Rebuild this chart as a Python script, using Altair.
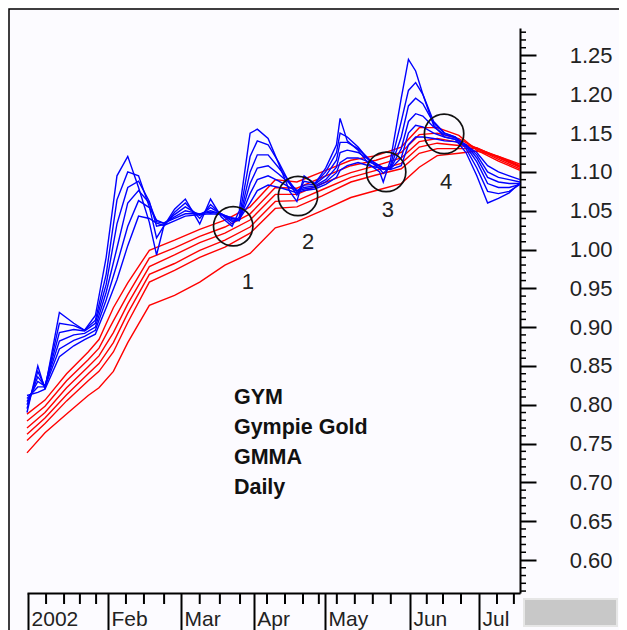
import altair as alt
import pandas as pd

# ---------------- data (trading-day index, price) ----------------
blue_days = [0, 3, 5, 9, 13, 16, 19, 22, 25, 28, 31, 34, 36, 38, 41, 44, 48, 51, 54, 57,
             59, 62, 64, 67, 70, 73, 75, 77, 80, 83, 86, 87, 89, 92, 95, 98, 99, 101, 104, 106,
             108, 110, 113, 116, 119, 122, 125, 128, 131, 134, 137]
ema3 = [0.790, 0.850, 0.820, 0.919, 0.905, 0.896, 0.915, 0.990, 1.095, 1.120, 1.080, 1.035, 0.993, 1.030, 1.052, 1.065, 1.033, 1.065, 1.042, 1.030,
        1.050, 1.150, 1.155, 1.143, 1.110, 1.075, 1.062, 1.095, 1.085, 1.105, 1.135, 1.169, 1.140, 1.128, 1.110, 1.100, 1.087, 1.115, 1.195, 1.245,
        1.230, 1.200, 1.160, 1.145, 1.142, 1.125, 1.095, 1.060, 1.066, 1.073, 1.086]
ema5 = [0.795, 0.843, 0.823, 0.905, 0.902, 0.896, 0.909, 0.968, 1.064, 1.100, 1.095, 1.055, 1.015, 1.030, 1.048, 1.060, 1.040, 1.058, 1.045, 1.033,
        1.042, 1.120, 1.140, 1.135, 1.112, 1.085, 1.070, 1.088, 1.085, 1.100, 1.125, 1.150, 1.145, 1.132, 1.115, 1.104, 1.098, 1.108, 1.165, 1.205,
        1.215, 1.200, 1.165, 1.150, 1.145, 1.130, 1.105, 1.075, 1.072, 1.075, 1.084]
ema8 = [0.800, 0.836, 0.824, 0.893, 0.897, 0.895, 0.905, 0.955, 1.033, 1.080, 1.088, 1.062, 1.030, 1.032, 1.045, 1.055, 1.044, 1.054, 1.046, 1.036,
        1.038, 1.100, 1.122, 1.122, 1.105, 1.087, 1.075, 1.083, 1.084, 1.095, 1.115, 1.138, 1.138, 1.130, 1.117, 1.107, 1.103, 1.105, 1.145, 1.185,
        1.195, 1.188, 1.163, 1.150, 1.145, 1.133, 1.113, 1.085, 1.080, 1.080, 1.084]
ema10 = [0.804, 0.830, 0.824, 0.882, 0.890, 0.892, 0.900, 0.945, 1.002, 1.060, 1.076, 1.060, 1.036, 1.034, 1.042, 1.050, 1.046, 1.050, 1.046, 1.038,
         1.037, 1.085, 1.105, 1.108, 1.097, 1.085, 1.076, 1.080, 1.082, 1.090, 1.106, 1.125, 1.128, 1.125, 1.116, 1.108, 1.105, 1.104, 1.130, 1.165,
         1.175, 1.172, 1.158, 1.148, 1.144, 1.135, 1.118, 1.093, 1.087, 1.085, 1.085]
ema12 = [0.808, 0.823, 0.823, 0.872, 0.883, 0.888, 0.896, 0.935, 0.981, 1.030, 1.063, 1.054, 1.038, 1.034, 1.040, 1.046, 1.046, 1.048, 1.046, 1.040,
         1.038, 1.072, 1.090, 1.095, 1.088, 1.080, 1.075, 1.078, 1.080, 1.087, 1.099, 1.112, 1.118, 1.118, 1.113, 1.107, 1.105, 1.104, 1.118, 1.150,
         1.160, 1.158, 1.150, 1.145, 1.142, 1.135, 1.122, 1.100, 1.093, 1.090, 1.087]
ema15 = [0.812, 0.816, 0.820, 0.862, 0.876, 0.884, 0.891, 0.925, 0.961, 1.005, 1.043, 1.040, 1.034, 1.031, 1.037, 1.043, 1.045, 1.046, 1.045, 1.041,
         1.039, 1.060, 1.076, 1.083, 1.080, 1.076, 1.073, 1.076, 1.078, 1.084, 1.093, 1.102, 1.108, 1.112, 1.108, 1.105, 1.104, 1.103, 1.108, 1.135,
         1.145, 1.145, 1.143, 1.140, 1.139, 1.134, 1.125, 1.108, 1.100, 1.095, 1.090]

red_days = [0, 5, 11, 17, 20, 24, 28, 34, 41, 48, 55, 62, 69, 75, 82, 90, 97, 104, 109, 114, 120, 125, 131, 137]
ema30 = [0.788, 0.806, 0.840, 0.868, 0.884, 0.925, 0.957, 0.999, 1.012, 1.026, 1.038, 1.055, 1.090, 1.087, 1.100, 1.115, 1.121, 1.132, 1.157, 1.157, 1.147, 1.128, 1.114, 1.102]
ema35 = [0.779, 0.798, 0.831, 0.858, 0.873, 0.908, 0.942, 0.989, 1.002, 1.017, 1.029, 1.046, 1.080, 1.079, 1.093, 1.108, 1.115, 1.125, 1.148, 1.150, 1.143, 1.130, 1.116, 1.104]
ema40 = [0.770, 0.790, 0.822, 0.849, 0.863, 0.893, 0.930, 0.978, 0.993, 1.009, 1.021, 1.038, 1.071, 1.071, 1.085, 1.099, 1.108, 1.118, 1.139, 1.143, 1.138, 1.131, 1.118, 1.106]
ema45 = [0.762, 0.783, 0.813, 0.840, 0.853, 0.880, 0.918, 0.968, 0.982, 0.999, 1.012, 1.029, 1.062, 1.063, 1.077, 1.093, 1.102, 1.111, 1.132, 1.137, 1.134, 1.131, 1.119, 1.107]
ema50 = [0.754, 0.776, 0.805, 0.831, 0.843, 0.868, 0.906, 0.958, 0.973, 0.990, 1.003, 1.021, 1.053, 1.055, 1.069, 1.087, 1.096, 1.104, 1.124, 1.130, 1.130, 1.130, 1.120, 1.108]
ema60 = [0.738, 0.764, 0.788, 0.812, 0.822, 0.843, 0.880, 0.928, 0.941, 0.958, 0.980, 0.995, 1.028, 1.036, 1.050, 1.067, 1.076, 1.085, 1.106, 1.121, 1.124, 1.127, 1.120, 1.110]

month_ticks = [0.3, 22.5, 42.8, 63, 82.8, 106.4, 125.6]
month_labels = ["2002", "Feb", "Mar", "Apr", "May", "Jun", "Jul"]
week_ticks = [5.3, 10.3, 14.7, 19.2, 27.5, 32.5, 38.1, 48, 53.6, 59.2, 66.7, 71.7, 76.7,
              81.1, 86.1, 91.1, 96.1, 101.1, 111.1, 115.6, 120.6, 130.6, 135.3]
price_ticks = [0.60, 0.65, 0.70, 0.75, 0.80, 0.85, 0.90, 0.95, 1.00, 1.05, 1.10, 1.15, 1.20, 1.25]
minor_price_ticks = [round(0.56 + 0.01 * i, 2) for i in range(73) if i % 5 != 4]

circle_days = [57.3, 75.3, 99.8, 115.9]
circle_values = [1.030, 1.069, 1.100, 1.149]
number_labels = ["1", "2", "3", "4"]
number_days = [61.4, 78.1, 100.3, 116.5]
number_values = [0.958, 1.010, 1.051, 1.087]
note_lines = ["GYM", "Gympie Gold", "GMMA", "Daily"]
note_values = [0.809, 0.770, 0.732, 0.693]
note_day = 57.5

# ---------------- tables ----------------
def long_table(days, series):
    rows = []
    for name, vals in series.items():
        for d, v in zip(days, vals):
            rows.append({"day": d, "value": v, "series": name})
    return pd.DataFrame(rows)

blue_df = long_table(blue_days, {"EMA3": ema3, "EMA5": ema5, "EMA8": ema8,
                                 "EMA10": ema10, "EMA12": ema12, "EMA15": ema15})
red_df = long_table(red_days, {"EMA30": ema30, "EMA35": ema35, "EMA40": ema40,
                               "EMA45": ema45, "EMA50": ema50, "EMA60": ema60})
circles_df = pd.DataFrame({"day": circle_days, "value": circle_values})
numbers_df = pd.DataFrame({"day": number_days, "value": number_values, "label": number_labels})
notes_df = pd.DataFrame({"day": [note_day] * len(note_lines), "value": note_values, "label": note_lines})
week_df = pd.DataFrame({"day": week_ticks})
minor_df = pd.DataFrame({"value": minor_price_ticks})
dummy = pd.DataFrame({"a": [0]})

# ---------------- encodings ----------------
FONT = "Liberation Sans"
W, H = 493, 565

expr = "'" + month_labels[-1] + "'"
for i in range(len(month_ticks) - 2, -1, -1):
    mid = (month_ticks[i] + month_ticks[i + 1]) / 2
    expr = f"datum.value < {mid} ? '{month_labels[i]}' : ({expr})"

x_scale = alt.Scale(domain=[0, 137], nice=False, zero=False)
y_scale = alt.Scale(domain=[0.5575, 1.2854], nice=False, zero=False)

x_axis = alt.Axis(values=month_ticks, labelExpr=expr, tickSize=37, labelPadding=-22,
                  labelAlign="left", labelBaseline="top", labelOffset=3, labelFlush=False,
                  labelOverlap=False, labelBound=False, domainColor="black", domainWidth=2,
                  tickColor="black", tickWidth=2, labelFontSize=21, labelFont=FONT,
                  labelColor="#222222", grid=False, title=None)
y_axis = alt.Axis(orient="right", values=price_ticks, format=".2f", tickSize=16,
                  labelPadding=76, labelAlign="right", labelBaseline="middle",
                  labelOverlap=False, labelFlush=False, labelBound=False,
                  domainColor="black", domainWidth=2, tickColor="black", tickWidth=2,
                  labelFontSize=22, labelFont=FONT, labelColor="#222222", grid=False, title=None)

X = alt.X("day:Q", scale=x_scale, axis=x_axis)
Y = alt.Y("value:Q", scale=y_scale, axis=y_axis)

frame = alt.Chart(dummy).mark_rect(fillOpacity=0, stroke="black", strokeWidth=1.5).encode(
    x=alt.value(-18), x2=alt.value(W + 200), y=alt.value(-19), y2=alt.value(H + 200))
gray_box = alt.Chart(dummy).mark_rect(fill="#c8c8c8", stroke="#e6e6e6", strokeWidth=2).encode(
    x=alt.value(497), x2=alt.value(590), y=alt.value(571), y2=alt.value(598))

red_lines = alt.Chart(red_df).mark_line(color="#ff0000", strokeWidth=1.4).encode(
    x=X, y=Y, detail="series:N")
blue_lines = alt.Chart(blue_df).mark_line(color="#0000ff", strokeWidth=1.4).encode(
    x=X, y=Y, detail="series:N")
circles = alt.Chart(circles_df).mark_point(shape="circle", filled=False, size=1550, opacity=1,
                                           color="#111111", strokeWidth=1.7).encode(x=X, y=Y)
numbers = alt.Chart(numbers_df).mark_text(font=FONT, fontSize=22, color="#222222").encode(
    x=X, y=Y, text="label:N")
notes = alt.Chart(notes_df).mark_text(font=FONT, fontSize=21.5, fontWeight="bold",
                                      color="#111111", align="left", baseline="middle").encode(
    x=X, y=Y, text="label:N")
week_marks = alt.Chart(week_df).mark_rule(color="black", strokeWidth=2).encode(
    x=X, y=alt.value(H), y2=alt.value(H + 11))
minor_marks = alt.Chart(minor_df).mark_rule(color="black", strokeWidth=1.5).encode(
    y=Y, x=alt.value(W), x2=alt.value(W + 6))

chart = alt.layer(frame, gray_box, red_lines, blue_lines, circles, numbers, notes,
                  week_marks, minor_marks).properties(
    width=W, height=H,
    autosize=alt.AutoSizeParams(type="none"),
    padding={"left": 19, "top": 20, "right": 99, "bottom": 37},
    background="#fcfbff",
).configure_view(stroke=None)

chart.save("out.html", embed_options={"renderer": "svg", "actions": False})
